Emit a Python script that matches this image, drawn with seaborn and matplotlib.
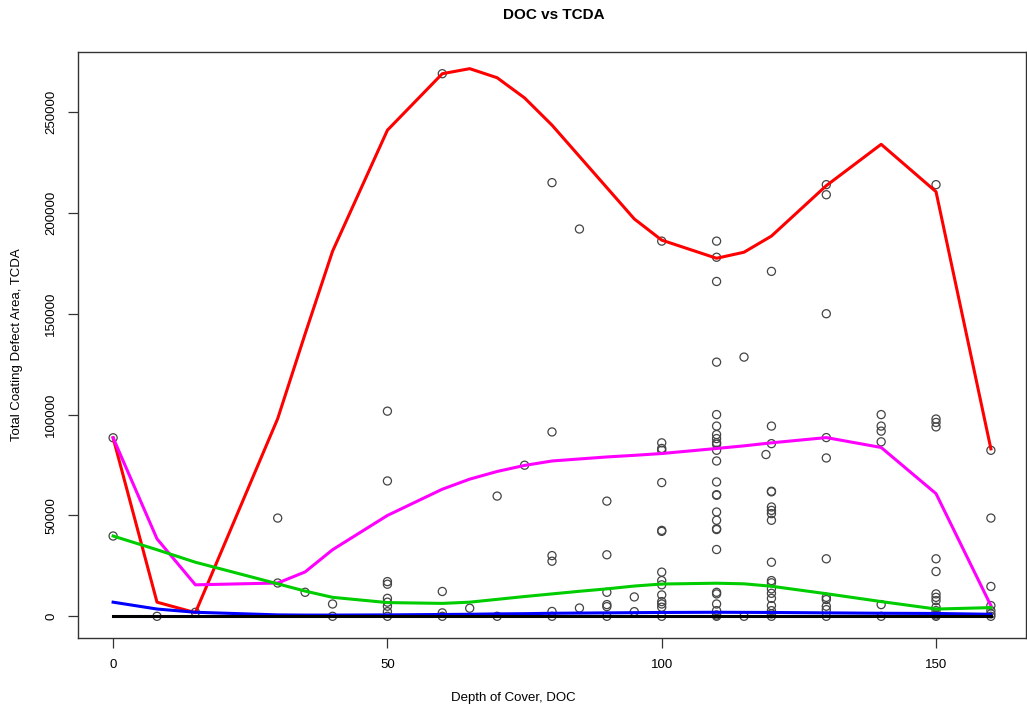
import numpy as np
import pandas as pd
import matplotlib
matplotlib.use("Agg")
import matplotlib.pyplot as plt
import seaborn as sns

# ---- scatter data (Depth of Cover vs Total Coating Defect Area) ----
pts = {
    0: [88500, 39800],
    8: [0],
    15: [2000],
    30: [48700, 16500],
    35: [11900],
    40: [6100, 0],
    50: [101700, 67100, 17200, 15900, 8900, 7000, 5000, 2300, 0],
    60: [269000, 12300, 1700, 0],
    65: [4000],
    70: [59600, 0],
    75: [74900],
    80: [215000, 91400, 30100, 27300, 2400, 0],
    85: [192000, 4100],
    90: [57100, 30500, 11900, 5800, 4800, 0],
    95: [9600, 2300],
    100: [186000, 86000, 83200, 82300, 66300, 42600, 42100, 21900, 17700,
          15600, 10600, 7300, 6100, 4500, 0],
    110: [186000, 178000, 166000, 126000, 100000, 94300, 90100, 88100, 86100,
          85300, 82300, 77000, 66600, 60300, 60000, 51700, 47600, 43400, 43000,
          33100, 11900, 11100, 6100, 2800, 650, 0],
    115: [128500, 0],
    119: [80200],
    120: [171000, 94300, 85600, 62000, 61700, 54200, 52500, 50900, 47600, 26800,
          17700, 16600, 13600, 11400, 8900, 5300, 2800, 1200, 0],
    130: [214000, 209000, 150000, 88600, 78500, 28500, 9400, 8300, 5000, 3300, 0],
    140: [100000, 94300, 91800, 86500, 5800, 0],
    150: [214000, 97800, 96100, 93900, 28500, 22200, 11100, 9400, 7800, 4500,
          2800, 650, 0],
    160: [82300, 48700, 14800, 5300, 2800, 1200, 0],
}
doc = [x for x, ys in pts.items() for _ in ys]
tcda = [y for ys in pts.values() for y in ys]

# ---- fitted curves at the unique DOC values ----
fit_x = [0, 8, 15, 30, 35, 40, 50, 60, 65, 70, 75, 80, 85, 90, 95, 100,
         110, 115, 120, 130, 140, 150, 160]
red_y = [88500, 7000, 1800, 98000, 140000, 181000, 241000, 269000, 271500,
         267000, 257000, 243500, 228000, 212500, 197000, 186500, 177500,
         180500, 188500, 213500, 234000, 210500, 83000]
magenta_y = [88500, 38400, 15600, 16500, 22000, 33000, 50000, 63000, 68000,
             71800, 74800, 77000, 78000, 79000, 79800, 80700, 83200, 84500,
             86000, 88600, 83700, 60800, 5300]
green_y = [39800, 33000, 26800, 16100, 12500, 9400, 6800, 6400, 7000, 8400,
           9800, 11100, 12400, 13600, 15000, 16000, 16400, 16100, 14900,
           11200, 7300, 3600, 4300]
blue_y = [7000, 3600, 2000, 700, 600, 600, 700, 900, 1000, 1200, 1300, 1500,
          1600, 1700, 1800, 1900, 2000, 1950, 1900, 1700, 1500, 1400, 1000]
black_y = [0] * len(fit_x)

curves = [("red", red_y, "#FF0000"), ("magenta", magenta_y, "#FF00FF"),
          ("green", green_y, "#00CD00"), ("blue", blue_y, "#0000FF"),
          ("black", black_y, "#000000")]

plt.rcParams['font.family'] = ['Liberation Sans', 'DejaVu Sans']

fig = plt.figure(figsize=(10.27, 7.15), dpi=100)
ax = fig.add_axes([78 / 1027, 1 - 638 / 715, 948 / 1027, 586 / 715])

scatter_df = pd.DataFrame({"DOC": doc, "TCDA": tcda})
sns.scatterplot(data=scatter_df, x="DOC", y="TCDA", ax=ax, marker="o",
                s=34, facecolors="none", edgecolor="#444444", linewidth=0.9,
                zorder=2)

for name, ys, col in curves:
    df = pd.DataFrame({"DOC": fit_x, "TCDA": ys})
    sns.lineplot(data=df, x="DOC", y="TCDA", ax=ax, color=col, linewidth=2.2,
                 sort=False, estimator=None, zorder=3)

ax.set_xlim(-6.4, 166.4)
ax.set_ylim(-10760, 279760)
ax.set_xticks([0, 50, 100, 150])
ax.set_yticks([0, 50000, 100000, 150000, 200000, 250000])
ax.set_xticklabels(["0", "50", "100", "150"], fontsize=9.5)
ax.set_yticklabels(["0", "50000", "100000", "150000", "200000", "250000"],
                   fontsize=9.5, rotation=90, va="center")
ax.tick_params(axis="both", direction="out", length=7, width=0.9,
               color="#333333", pad=8)
for sp in ax.spines.values():
    sp.set_linewidth(1.0)
    sp.set_color("#333333")

ax.set_xlabel("")
ax.set_ylabel("")
fig.text(0.5 + 0.0, 1 - 698 / 715, "Depth of Cover, DOC", ha="center",
         va="center", fontsize=9.5)
fig.text(17 / 1027, 1 - 345 / 715, "Total Coating Defect Area, TCDA",
         ha="center", va="center", rotation=90, fontsize=9.5)
fig.text(554 / 1027, 1 - 15 / 715, "DOC vs TCDA", ha="center", va="center",
         fontsize=11, fontweight="bold")

fig.savefig("out.png", dpi=100)
